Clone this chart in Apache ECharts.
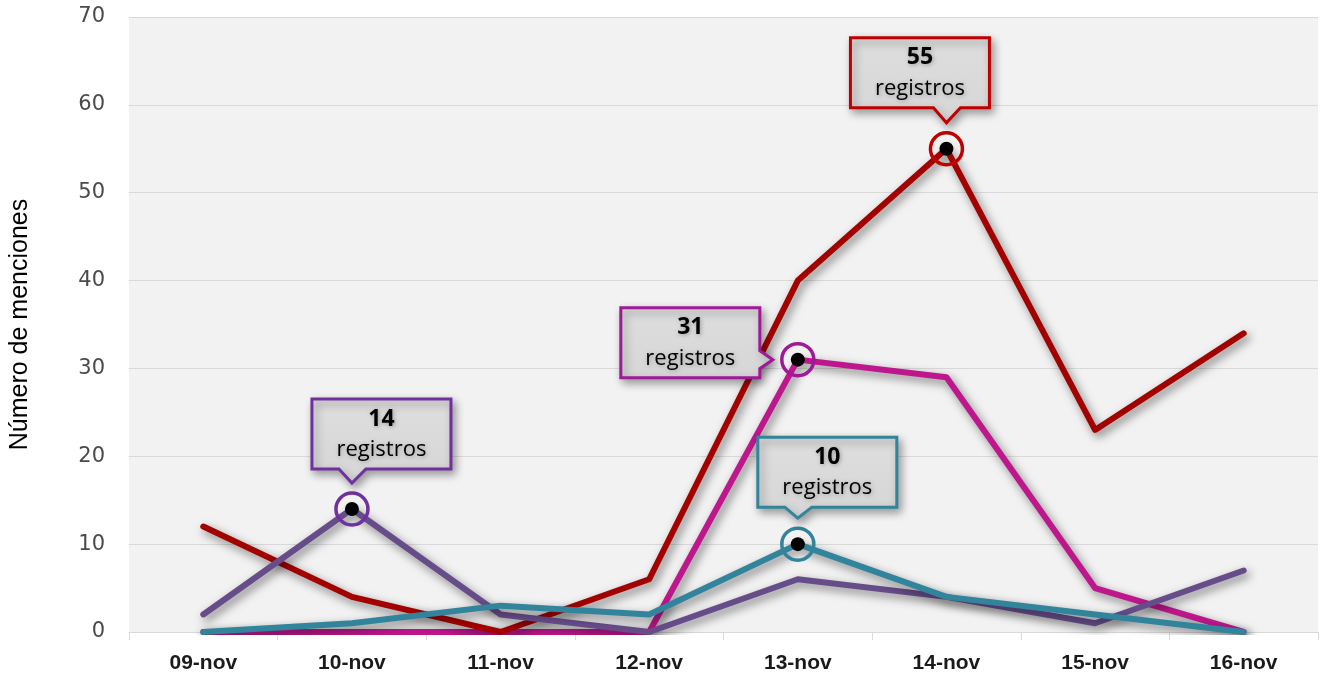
<!DOCTYPE html>
<html>
<head>
<meta charset="utf-8">
<script src="https://cdn.jsdelivr.net/npm/echarts@6/dist/echarts.min.js"></script>
<style>
  html, body { margin: 0; padding: 0; background: #ffffff; }
  #chart { width: 1325px; height: 677px; }
</style>
</head>
<body>
<div id="chart"></div>
<script>
// Daily mention counts per topic
const categories = ['09-nov', '10-nov', '11-nov', '12-nov', '13-nov', '14-nov', '15-nov', '16-nov'];
const seriesRed     = [12, 4, 0, 6, 40, 55, 23, 34];
const seriesMagenta = [0, 0, 0, 0, 31, 29, 5, 0];
const seriesPurple  = [2, 14, 2, 0, 6, 4, 1, 7];
const seriesTeal    = [0, 1, 3, 2, 10, 4, 2, 0];
const yTicks = [0, 10, 20, 30, 40, 50, 60, 70];
const yAxisTitle = 'Número de menciones';
const unitText = 'registros';

// Peak highlights: which series, which day, and where the callout sits
const highlights = [
  { data: seriesRed,     idx: 5, ring: '#C00000', place: 'top',  dx: -96, dy: -41 },
  { data: seriesMagenta, idx: 4, ring: '#9E1A96', place: 'left', dx: -38, dy: 18 },
  { data: seriesPurple,  idx: 1, ring: '#7030A0', place: 'top',  dx: -40, dy: -40 },
  { data: seriesTeal,    idx: 4, ring: '#31849B', place: 'top',  dx: -40, dy: -37 }
];

const chart = echarts.init(document.getElementById('chart'), null, { renderer: 'canvas' });

const shadow = { shadowColor: 'rgba(0,0,0,0.5)', shadowBlur: 10, shadowOffsetX: 3, shadowOffsetY: 4 };

function lineSeries(name, data, color) {
  const hl = highlights.filter(h => h.data === data);
  const mp = [];
  hl.forEach(h => {
    mp.push({ coord: [h.idx, data[h.idx]], symbol: 'circle', symbolSize: 32,
      itemStyle: { color: 'rgba(0,0,0,0)', borderColor: h.ring, borderWidth: 3.5 } });
    mp.push({ coord: [h.idx, data[h.idx]], symbol: 'circle', symbolSize: 14,
      itemStyle: { color: '#000000', borderWidth: 0 } });
  });
  return {
    name: name,
    type: 'line',
    data: data,
    showSymbol: false,
    silent: true,
    animation: false,
    lineStyle: Object.assign({ color: color, width: 6, cap: 'round', join: 'round' }, shadow),
    itemStyle: { color: color },
    markPoint: mp.length ? { silent: true, animation: false, label: { show: false }, data: mp, z: 10 } : undefined
  };
}

const option = {
  backgroundColor: '#ffffff',
  animation: false,
  grid: {
    left: 127, right: 7, top: 17, bottom: 45,
    show: true, backgroundColor: '#F2F2F2', borderWidth: 0
  },
  xAxis: {
    type: 'category',
    data: categories,
    boundaryGap: true,
    axisLine: { show: true, lineStyle: { color: '#D9D9D9', width: 1 } },
    axisTick: { show: true, length: 8, lineStyle: { color: '#D9D9D9' } },
    axisLabel: { color: '#1a1a1a', fontFamily: 'Liberation Sans', fontWeight: 'bold', fontSize: 21, margin: 21 },
    splitLine: { show: false }
  },
  yAxis: {
    type: 'value',
    min: yTicks[0], max: yTicks[yTicks.length - 1], interval: 10,
    name: yAxisTitle,
    nameLocation: 'middle',
    nameGap: 96,
    nameRotate: 90,
    nameTextStyle: { color: '#000000', fontFamily: 'Liberation Sans', fontSize: 25 },
    axisLine: { show: false },
    axisTick: { show: false },
    axisLabel: { color: '#4a4a4a', fontFamily: 'DejaVu Sans', fontSize: 21, margin: 24 },
    splitLine: { lineStyle: { color: '#D9D9D9', width: 1 } }
  },
  series: [
    lineSeries('Magenta', seriesMagenta, '#BE168C'),
    lineSeries('Rojo', seriesRed, '#A30000'),
    lineSeries('Morado', seriesPurple, '#674C8A'),
    lineSeries('Turquesa', seriesTeal, '#31849B')
  ]
};
chart.setOption(option);

// Callout boxes with pointer, placed relative to each highlighted point
const BW = 139, BH = 70;
function calloutGraphics() {
  const els = [];
  highlights.forEach(h => {
    const p = chart.convertToPixel({ gridIndex: 0 }, [h.idx, h.data[h.idx]]);
    const px = p[0], py = p[1];
    let pts, bx, by;
    if (h.place === 'top') {
      bx = px + h.dx; by = py + h.dy - BH;
      const bottom = by + BH, tipY = py - 26;
      pts = [[bx, by], [bx + BW, by], [bx + BW, bottom], [px + 14, bottom], [px, tipY], [px - 13, bottom], [bx, bottom]];
    } else {
      bx = px + h.dx - BW; by = py + h.dy - BH;
      const right = bx + BW, tipX = px - 25;
      pts = [[bx, by], [right, by], [right, py - 9], [tipX, py], [right, py + 9], [right, by + BH], [bx, by + BH]];
    }
    els.push({
      type: 'polygon', z: 100, silent: true,
      shape: { points: pts },
      style: {
        fill: new echarts.graphic.LinearGradient(0, 0, 0, 1, [
          { offset: 0, color: '#DEDEDE' }, { offset: 1, color: '#D6D6D6' }
        ]),
        stroke: h.ring, lineWidth: 3,
        shadowColor: 'rgba(0,0,0,0.35)', shadowBlur: 8, shadowOffsetX: 3, shadowOffsetY: 4
      }
    });
    els.push({
      type: 'text', z: 101, silent: true,
      x: bx + BW / 2, y: by + 20,
      style: {
        text: String(h.data[h.idx]), fill: '#000000', align: 'center', verticalAlign: 'middle',
        font: 'bold 23px "Open Sans"', textShadowColor: 'rgba(0,0,0,0.3)', textShadowBlur: 4, textShadowOffsetX: 1, textShadowOffsetY: 1
      }
    });
    els.push({
      type: 'text', z: 101, silent: true,
      x: bx + BW / 2, y: by + 51,
      style: {
        text: unitText, fill: '#000000', align: 'center', verticalAlign: 'middle',
        font: '22px "Open Sans"', textShadowColor: 'rgba(0,0,0,0.3)', textShadowBlur: 4, textShadowOffsetX: 1, textShadowOffsetY: 1
      }
    });
  });
  return els;
}
chart.setOption({ graphic: calloutGraphics() });
</script>
</body>
</html>
